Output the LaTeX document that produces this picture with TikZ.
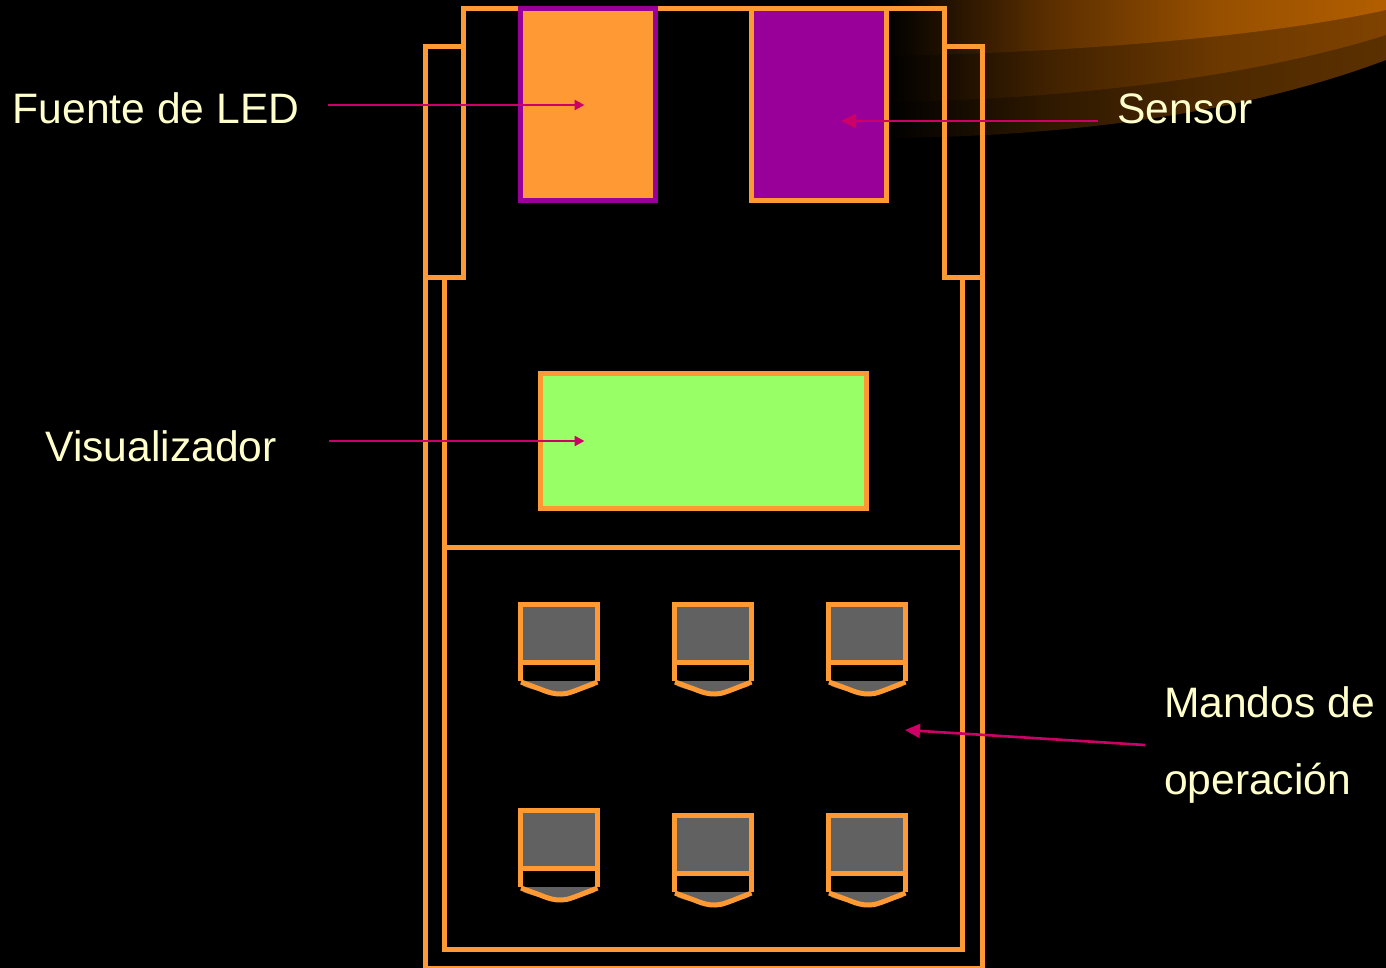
\documentclass[tikz,border=0pt]{standalone}
\usepackage{fontspec}
\setmainfont{Liberation Sans}
\usetikzlibrary{arrows.meta}
\definecolor{bodyor}{HTML}{FF9933}
\definecolor{ledpu}{HTML}{990099}
\definecolor{arrowpk}{HTML}{CC0066}
\definecolor{labelcr}{HTML}{FFFFCC}
\definecolor{dispgr}{HTML}{99FF66}
\definecolor{keygr}{HTML}{616161}
\pgfdeclarehorizontalshading{swooshA}{100bp}{rgb(0bp)=(0,0,0);rgb(25bp)=(0,0,0);rgb(41bp)=(0.18,0.095,0);rgb(58bp)=(0.30,0.16,0);rgb(75bp)=(0.36,0.19,0);rgb(100bp)=(0.36,0.19,0)}
\pgfdeclarehorizontalshading{swooshB}{100bp}{rgb(0bp)=(0,0,0);rgb(25bp)=(0,0,0);rgb(41bp)=(0.25,0.13,0);rgb(58bp)=(0.42,0.22,0);rgb(75bp)=(0.50,0.26,0);rgb(100bp)=(0.50,0.26,0)}
\pgfdeclarehorizontalshading{swooshC}{100bp}{rgb(0bp)=(0,0,0);rgb(25bp)=(0,0,0);rgb(41bp)=(0.35,0.18,0);rgb(58bp)=(0.59,0.31,0);rgb(75bp)=(0.70,0.37,0);rgb(100bp)=(0.70,0.37,0)}
\tikzset{
  bodyline/.style={draw=bodyor,line width=5pt,line join=miter},
  blockbox/.style={rectangle,inner sep=0pt,outer sep=0pt,line width=5pt},
  lbl/.style={text=labelcr,font=\fontsize{42.6}{77}\selectfont,inner ysep=0pt,outer sep=0pt},
  ptr/.style={draw=arrowpk,line width=2.6pt},
  tipS/.style={-{Triangle[length=10pt,width=10pt]}},
  tipL/.style={-{Triangle[length=15pt,width=14pt]}},
}
\newcommand{\boton}[2]{%
  \begin{scope}[shift={(#1,#2)}]
    \fill[keygr] (3,79) -- (79,79) -- (77,84) .. controls (55,93) and (27,93) .. (5,84) -- cycle;
    \draw[bodyline,fill=keygr] (2.5,2.5) rectangle (79.5,60);
    \draw[bodyline,line width=4.6pt] (2.5,60) -- (2.5,79);
    \draw[bodyline,line width=4.6pt] (79.5,60) -- (79.5,79);
    \draw[bodyline,line width=5pt] (3,80) -- (22,87) .. controls (32,91) and (36,92) .. (43,92) .. controls (50,92) and (54,90) .. (79.5,80);
  \end{scope}}
\begin{document}
\begin{tikzpicture}[x=1pt,y=-1pt]
\useasboundingbox (0,0) rectangle (1386,968);
\fill[black] (0,0) rectangle (1386,968);
% swoosh
\path[shading=swooshA] (885,0) -- (1386,0) -- (1386,60) .. controls (1240,115) and (1060,137) .. (885,138) -- cycle;
\path[shading=swooshB] (885,0) -- (1386,0) -- (1386,35) .. controls (1250,78) and (1060,100) .. (885,102) -- cycle;
\path[shading=swooshC] (885,0) -- (1386,0) -- (1386,10) .. controls (1260,38) and (1060,53) .. (885,56) -- cycle;
% body
\draw[bodyline] (463,279) -- (463,9) -- (944,9) -- (944,279);
\draw[bodyline] (425,46.5) rectangle (463,277.5);
\draw[bodyline] (944,46.5) rectangle (982,277.5);
\draw[bodyline] (425,277.5) -- (425,968) -- (982,968) -- (982,277.5);
\draw[bodyline] (444,277.5) -- (444,949.5) -- (962.5,949.5) -- (962.5,277.5);
\draw[bodyline] (444,547) -- (962.5,547);
% blocks
\node[blockbox,draw=ledpu,fill=bodyor,minimum width=135pt,minimum height=192pt] (led) at (588,104.5) {};
\node[blockbox,draw=bodyor,fill=ledpu,minimum width=135pt,minimum height=192pt] (sensorbox) at (819,105) {};
\node[blockbox,draw=bodyor,fill=dispgr,minimum width=326pt,minimum height=135pt] (display) at (703.5,441) {};
% keys
\boton{518}{602}\boton{672}{602}\boton{826}{602}
\boton{518}{808}\boton{672}{813}\boton{826}{813}
% labels
\node[lbl,anchor=base,inner xsep=29pt] (lblF) at (156,124) {Fuente de LED};
\node[lbl,anchor=base,inner xsep=52pt] (lblV) at (161,461) {Visualizador};
\node[lbl,anchor=base,inner xsep=20pt] (lblS) at (1185,124) {Sensor};
\node[lbl,anchor=west,align=left,inner xsep=19pt] (lblM) at (1145,745) {Mandos de\\operación};
% connector ends
\coordinate (fromF) at (lblF.east |- 0,105);
\coordinate (toF) at (584.5,105);
\coordinate (fromV) at (lblV.east |- 0,441);
\coordinate (toV) at (584.5,441);
\coordinate (fromS) at (lblS.west |- 0,121);
\coordinate (toS) at (841,121);
\coordinate (fromM) at (lblM.west |- 0,745);
\coordinate (toM) at (905,730);
\draw[ptr,tipS] (fromF) -- (toF);
\draw[ptr,tipS] (fromV) -- (toV);
\draw[ptr,tipL] (fromS) -- (toS);
\draw[ptr,tipL] (fromM) -- (toM);
\end{tikzpicture}
\end{document}
